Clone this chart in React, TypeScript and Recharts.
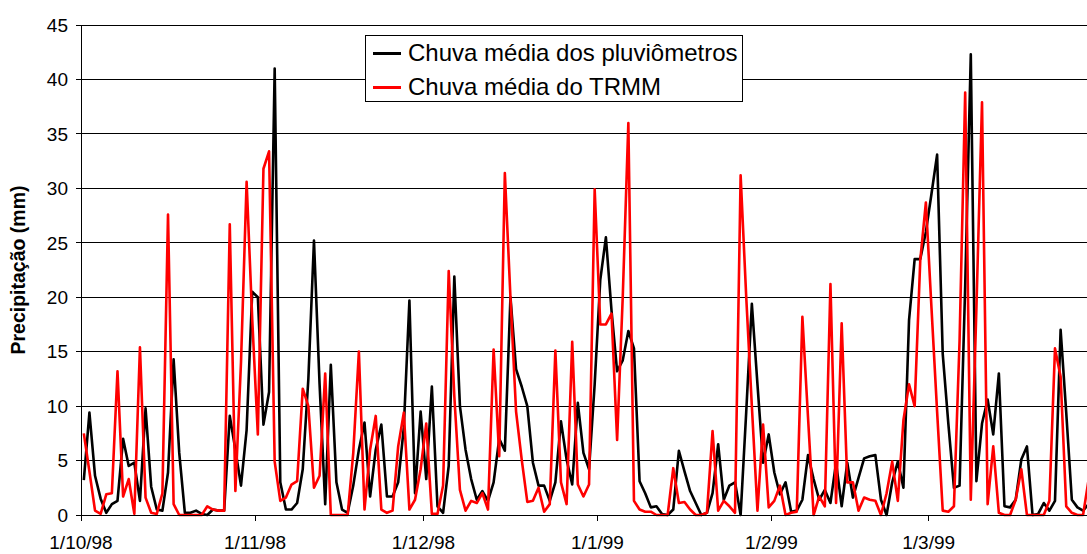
import { LineChart, Line, XAxis, YAxis, CartesianGrid } from "recharts";

// daily values, 1/10/98 onwards (mm)
const pluviometros = [
  3.2, 9.4, 3.6, 1.5, 0.2, 1.0, 1.3, 7.0, 4.5, 4.8,
  1.3, 9.8, 2.6, 0.5, 0.4, 3.9, 14.3, 5.7, 0.2, 0.2,
  0.4, 0.1, 0, 0.5, 0.4, 0.4, 9.1, 6, 2.7, 7.8,
  20.5, 20.0, 8.3, 11.3, 41.0, 3.0, 0.5, 0.5, 1.1, 4.2,
  12.5, 25.2, 12, 1.0, 13.8, 3.0, 0.5, 0.2, 2.7, 6.0,
  8.5, 1.7, 6.0, 8.3, 1.7, 1.7, 3.0, 8, 19.7, 2.0,
  9.5, 3.3, 11.8, 0.8, 0.2, 4.5, 21.9, 10.0, 6.0, 3.3,
  1.4, 2.2, 1.3, 3, 7, 5.9, 20.0, 13.4, 11.8, 10.0,
  4.8, 2.7, 2.7, 1.3, 3.0, 8.6, 5.1, 2.8, 10.3, 5.7,
  4.2, 12, 21.6, 25.5, 18.8, 13.2, 14.2, 16.9, 15.3, 3.1,
  2.0, 0.7, 0.8, 0.1, 0, 0.5, 5.9, 4.0, 2.2, 1.1,
  0, 0.2, 2.0, 6.5, 1.4, 2.7, 3.0, 0, 9.5, 19.4,
  12, 4.8, 7.4, 3.9, 1.9, 3.0, 0.3, 0.4, 1.4, 5.5,
  3.3, 1.4, 2.3, 1.1, 4.8, 0.8, 4.8, 1.6, 3.4, 5.2,
  5.4, 5.5, 1.4, 0, 3.0, 4.9, 2.5, 17.9, 23.5, 23.5,
  26, 29.5, 33.1, 14.8, 8.4, 2.5, 2.7, 21, 42.3, 3.1,
  8.4, 10.6, 7.4, 13.0, 0.8, 0.7, 1.4, 5.1, 6.3, 0,
  0.1, 1.1, 0.4, 1.3, 17.0, 9.4, 1.4, 0.7, 0.4, 1.0,
];

const trmm = [
  7.5, 4, 0.4, 0.1, 1.9, 2.0, 13.2, 1.7, 3.3, 0.1,
  15.4, 1.6, 0.2, 0.1, 2.0, 27.6, 1.0, 0, 0, 0,
  0, 0, 0.8, 0.5, 0.4, 0.4, 26.7, 2.2, 14, 30.6,
  18, 7.4, 31.8, 33.4, 4.9, 1.3, 1.6, 2.8, 3.1, 11.6,
  10.0, 2.5, 3.6, 13.0, 0, 0, 0, 0, 5.7, 15.0,
  0.5, 6.0, 9.1, 0.5, 0.2, 0.4, 6.3, 9.4, 0.5, 1.4,
  4.2, 8.4, 0.1, 0.1, 2.7, 22.4, 10.9, 2.3, 0.4, 1.3,
  1.1, 2.0, 0.5, 15.2, 5.4, 31.4, 20, 9.5, 5.1, 1.2,
  1.3, 2.5, 0.3, 1.0, 15.1, 3.0, 1.0, 15.9, 2.8, 1.7,
  2.8, 29.9, 17.5, 17.5, 18.5, 6.9, 20, 36.0, 1.3, 0.5,
  0.3, 0.3, 0, 0, 0, 4.3, 1.1, 1.2, 0.5, 0,
  0, 0.2, 7.7, 0.4, 1.3, 0.8, 0.2, 31.2, 20, 10,
  0.4, 8.3, 0.7, 1.3, 2.7, 0, 0.2, 0.3, 18.2, 9,
  0, 1.7, 0.8, 21.2, 1.1, 17.6, 3.0, 3.0, 0.4, 1.6,
  1.4, 1.3, 0, 2.0, 4.9, 1.3, 8.7, 12.0, 10.0, 23.4,
  28.7, 19, 9.5, 0.4, 0.3, 0.8, 16, 38.8, 1.4, 19,
  37.9, 1.0, 6.3, 0.2, 0, 0, 1.4, 4.2, 0, 0,
  0, 0, 1.3, 15.3, 12.7, 0.8, 0.2, 0, 0, 3.3,
];

const tickDays = [0, 31, 61, 92, 123, 151];
const tickLabels = ["1/10/98", "1/11/98", "1/12/98", "1/1/99", "1/2/99", "1/3/99"];
const yTicks = [0, 5, 10, 15, 20, 25, 30, 35, 40, 45];
const seriesNames = ["Chuva média dos pluviômetros", "Chuva média do TRMM"];

const FONT = "'Liberation Sans', Arial, sans-serif";

// points sit in the middle of each day
const data = pluviometros.map((v, i) => ({ x: i + 0.5, pluv: v, trmm: trmm[i] }));

function LegendBox() {
  const row = (color: string, label: string, top: number) => (
    <div style={{ position: "absolute", left: 0, top, height: 24, display: "flex", alignItems: "center" }}>
      <div style={{ width: 28, height: 3, background: color, marginLeft: 7, marginRight: 7 }} />
      <span style={{ fontSize: 24, lineHeight: "24px", color: "#000", whiteSpace: "nowrap" }}>{label}</span>
    </div>
  );
  return (
    <div
      style={{
        position: "absolute",
        left: 365,
        top: 35,
        width: 378,
        height: 67,
        boxSizing: "border-box",
        border: "1px solid #000",
        background: "#fff",
        fontFamily: FONT,
      }}
    >
      {row("#000", seriesNames[0], 5)}
      {row("#ff0000", seriesNames[1], 39)}
    </div>
  );
}

export default function App() {
  return (
    <div style={{ position: "absolute", left: 0, top: 0, width: 1087, height: 554, background: "#fff", fontFamily: FONT }}>
      <LineChart width={1087} height={554} data={data} margin={{ top: 25, right: 0, bottom: 0, left: 0 }}>
        <CartesianGrid vertical={false} stroke="#000" strokeWidth={1} shapeRendering="crispEdges" />
        <XAxis
          type="number"
          dataKey="x"
          domain={[0, 179.2]}
          allowDataOverflow
          ticks={tickDays}
          tickFormatter={(v: number) => tickLabels[tickDays.indexOf(v)] ?? ""}
          height={39}
          tickSize={6}
          tickMargin={15}
          axisLine={{ stroke: "#000", shapeRendering: "crispEdges" }}
          tickLine={{ stroke: "#000", shapeRendering: "crispEdges" }}
          tick={{ fontSize: 19, fill: "#000", fontFamily: FONT }}
        />
        <YAxis
          domain={[0, 45]}
          ticks={yTicks}
          width={81}
          tickSize={5}
          tickMargin={8}
          axisLine={{ stroke: "#000", shapeRendering: "crispEdges" }}
          tickLine={{ stroke: "#000", shapeRendering: "crispEdges" }}
          tick={{ fontSize: 19, fill: "#000", fontFamily: FONT }}
          label={{
            content: ({ viewBox }: any) => {
              const cy = viewBox.y + viewBox.height / 2;
              return (
                <text
                  x={18}
                  y={cy}
                  transform={`rotate(-90, 18, ${cy})`}
                  textAnchor="middle"
                  dominantBaseline="central"
                  style={{ fontSize: 19.5, fontWeight: "bold", fill: "#000", fontFamily: FONT }}
                >
                  Precipitação (mm)
                </text>
              );
            },
          }}
        />
        <Line
          dataKey="pluv"
          name={seriesNames[0]}
          type="linear"
          stroke="#000"
          strokeWidth={2.6}
          strokeLinejoin="round"
          dot={false}
          activeDot={false}
          isAnimationActive={false}
        />
        <Line
          dataKey="trmm"
          name={seriesNames[1]}
          type="linear"
          stroke="#ff0000"
          strokeWidth={2.6}
          strokeLinejoin="round"
          dot={false}
          activeDot={false}
          isAnimationActive={false}
        />
      </LineChart>
      <LegendBox />
    </div>
  );
}
